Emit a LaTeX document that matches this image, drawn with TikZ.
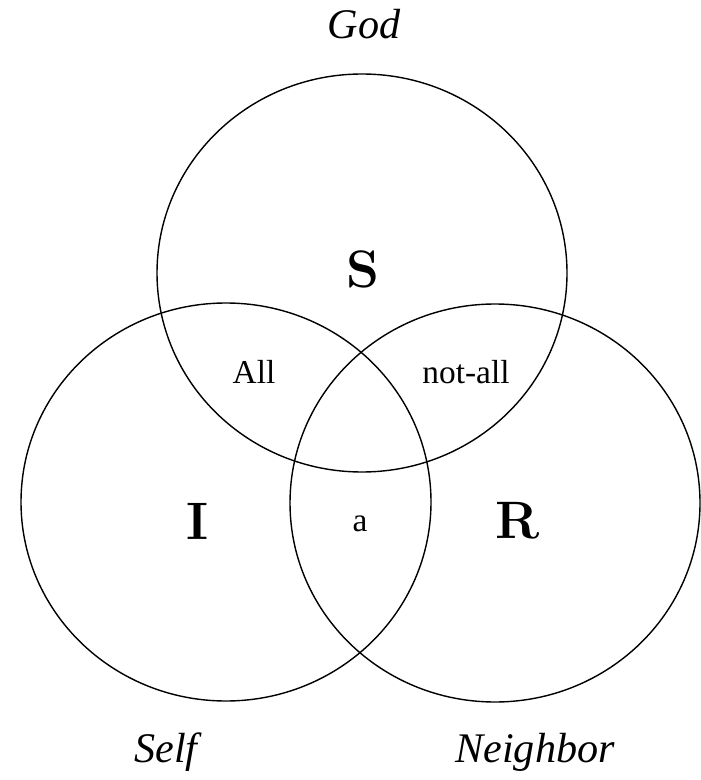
\documentclass[tikz,border=0pt]{standalone}
\usepackage{fontspec}
\newfontfamily\timesfont{Liberation Serif}
\tikzset{
  ring/.style={draw, line width=0.8pt},
  realm/.style={font=\timesfont\itshape\fontsize{24}{28}\selectfont},
  zone/.style={font=\timesfont\fontsize{19}{22}\selectfont},
  letter/.style={font=\bfseries\fontsize{30}{34}\selectfont}
}
\begin{document}
\begin{tikzpicture}[x=0.02cm,y=-0.02cm]
\useasboundingbox (0,0) rectangle (700,780);

% Kreise
\coordinate (god) at (362,273);
\coordinate (self) at (226,502);
\coordinate (neigh) at (495,503);

\foreach \c in {god,self,neigh}
{
\draw[ring] (\c) ellipse [x radius=205, y radius=199];
}

% Buchstaben
\node[letter] (s) at (363,269) {S};
\node[letter] (i) at (198,521) {I};
\node[letter] (r) at (518,521) {R};

% Schnittmengen
\node[zone] (all) at (254,372) {All};
\node[zone] (notall) at (466,372) {not-all};
\node[zone] (a) at (360,524) {a};

% Namen
\node[realm] (godname) at (364,24) {God};
\node[realm] (selfname) at (166,752) {Self};
\node[realm] (neighname) at (535,752) {Neighbor};

\end{tikzpicture}
\end{document}
